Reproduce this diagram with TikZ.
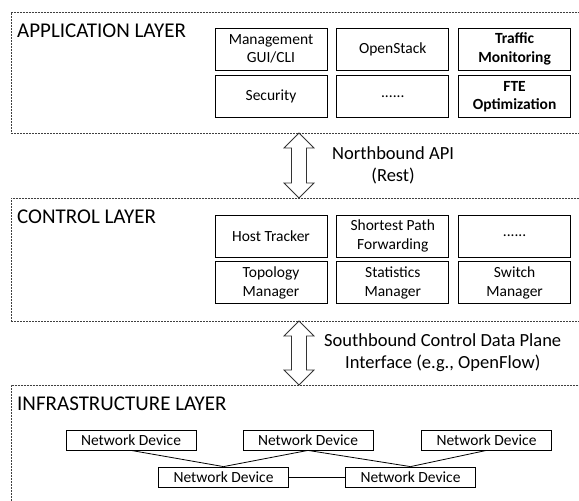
\documentclass[tikz,border=0pt]{standalone}
\usepackage{fontspec}
\setmainfont{Carlito}
\usetikzlibrary{positioning}
\tikzset{
    layer/.style={rectangle, draw=black!75, line width=0.7pt, dash pattern=on 2pt off 1pt, anchor=north west, minimum width=620pt, inner sep=0pt},
    title/.style={anchor=base west, inner sep=0pt, font=\fontsize{21}{25}\selectfont},
    block/.style={rectangle, draw=black, line width=0.8pt, minimum width=112pt, minimum height=42pt, inner sep=0pt, align=center, font=\fontsize{15.5}{18.5}\selectfont},
    device/.style={rectangle, draw=black, line width=0.8pt, minimum width=130pt, minimum height=20pt, inner sep=0pt, font=\fontsize{15.5}{18.5}\selectfont},
    dblarrow/.style={draw=black!80, line width=0.8pt, line join=miter},
    apilabel/.style={align=center, inner sep=0pt, font=\fontsize{18.5}{22}\selectfont},
    link/.style={line width=0.8pt}
}
\begin{document}
\begin{tikzpicture}[x=1pt, y=-1pt, node distance=5pt and 9pt]
    \useasboundingbox (0,0) rectangle (579,501);
    % Layers
    \node (app) [layer, minimum height=121pt] at (11,12) {};
    \node (ctrl) [layer, minimum height=123pt] at (11,198) {};
    \node (infra) [layer, minimum height=140pt] at (11,385) {};
    \node (apptitle) [title] at (17,37) {APPLICATION LAYER};
    \node (ctrltitle) [title] at (17,223) {CONTROL LAYER};
    \node (infratitle) [title] at (17,410) {INFRASTRUCTURE LAYER};
    % Application layer
    \node (mgmt) [block] at (271,49) {Management\\GUI/CLI};
    \node (openstack) [block, right=of mgmt] {OpenStack};
    \node (traffic) [block, right=of openstack, font=\fontsize{15.5}{18.5}\selectfont\bfseries] {Traffic\\Monitoring};
    \node (security) [block, below=of mgmt] {Security};
    \node (appdots) [block, below=of openstack] {......};
    \node (fte) [block, below=of traffic, font=\fontsize{15.5}{18.5}\selectfont\bfseries] {FTE\\Optimization};
    % Control layer
    \node (host) [block] at (271,236) {Host Tracker};
    \node (shortest) [block, right=of host] {Shortest Path\\Forwarding};
    \node (ctrldots) [block, right=of shortest] {......};
    \node (topo) [block, below=4pt of host] {Topology\\Manager};
    \node (stats) [block, below=4pt of shortest] {Statistics\\Manager};
    \node (switch) [block, below=4pt of ctrldots] {Switch\\Manager};
    % Interfaces
    \coordinate (ntop) at (299,133);
    \coordinate (nbot) at (299,198);
    \coordinate (nside) at (314,165.5);
    \draw [dblarrow] (ntop) -- ++(15,15) -- ++(-7.5,0) -- ++(0,35) -- ++(7.5,0) -- (nbot)
        -- ++(-15,-15) -- ++(7.5,0) -- ++(0,-35) -- ++(-7.5,0) -- cycle;
    \node (northlabel) [apilabel, right=18pt of nside] {Northbound API\\(Rest)};
    \coordinate (stop) at (299,321);
    \coordinate (sbot) at (299,385);
    \coordinate (sside) at (314,353);
    \draw [dblarrow] (stop) -- ++(15,15) -- ++(-7.5,0) -- ++(0,34) -- ++(7.5,0) -- (sbot)
        -- ++(-15,-15) -- ++(7.5,0) -- ++(0,-34) -- ++(-7.5,0) -- cycle;
    \node (southlabel) [apilabel, right=10pt of sside] {Southbound Control Data Plane\\Interface (e.g., OpenFlow)};
    % Infrastructure layer
    \node (dev1) [device] at (131,440) {Network Device};
    \node (dev2) [device] at (308,440) {Network Device};
    \node (dev3) [device] at (486.5,440) {Network Device};
    \node (dev4) [device] at (223.5,477) {Network Device};
    \node (dev5) [device] at (410.5,477) {Network Device};
    \draw [link] (dev1.south) -- (dev4.north);
    \draw [link] (dev2.south) -- (dev4.north);
    \draw [link] (dev2.south) -- (dev5.north);
    \draw [link] (dev3.south) -- (dev5.north);
    \draw [link] (dev4) -- (dev5);
\end{tikzpicture}
\end{document}
